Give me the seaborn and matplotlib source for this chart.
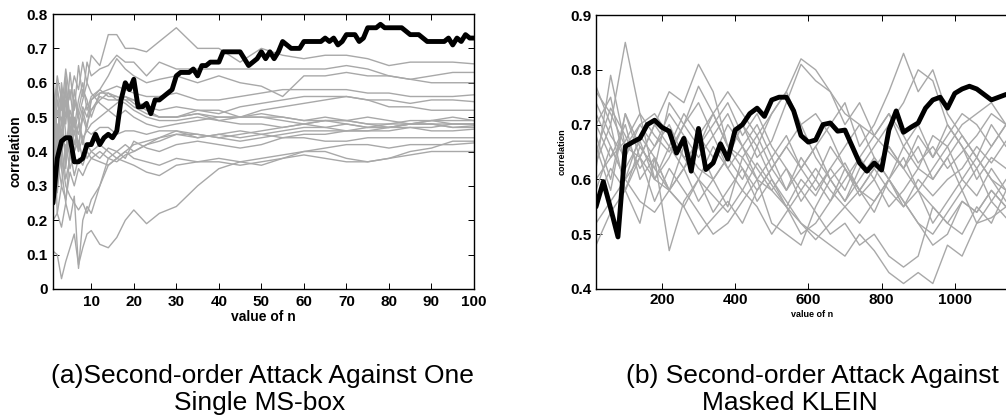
import numpy as np
import pandas as pd
import seaborn as sns
import matplotlib
matplotlib.use("Agg")
import matplotlib.pyplot as plt

sns.set_theme(style="ticks")
plt.rcParams['font.family'] = ['Liberation Sans', 'DejaVu Sans']
plt.rcParams.update({
    'xtick.direction': 'in', 'ytick.direction': 'in',
    'xtick.top': True, 'ytick.right': True,
    'xtick.major.size': 4, 'ytick.major.size': 4,
    'xtick.major.width': 0.7, 'ytick.major.width': 0.7,
    'axes.edgecolor': 'black', 'axes.linewidth': 1.0,
    'text.color': 'black', 'axes.labelcolor': 'black',
    'xtick.color': 'black', 'ytick.color': 'black',
})

GRAY = '#a8a8a8'

# ---- (a) one single MS-box : n = 1..100 ----
n_a = list(range(1, 101))
best_a = [0.25, 0.38, 0.43, 0.44, 0.44, 0.37, 0.37, 0.38, 0.42, 0.42,
          0.45, 0.42, 0.44, 0.45, 0.44, 0.46, 0.55, 0.60, 0.58, 0.61,
          0.53, 0.53, 0.54, 0.51, 0.55, 0.55, 0.56, 0.57, 0.58, 0.62,
          0.63, 0.63, 0.63, 0.64, 0.62, 0.65, 0.65, 0.66, 0.66, 0.66,
          0.69, 0.69, 0.69, 0.69, 0.69, 0.67, 0.65, 0.66, 0.67, 0.69,
          0.67, 0.69, 0.67, 0.69, 0.72, 0.71, 0.70, 0.70, 0.70, 0.72,
          0.72, 0.72, 0.72, 0.72, 0.73, 0.72, 0.73, 0.71, 0.72, 0.74,
          0.74, 0.74, 0.72, 0.73, 0.76, 0.76, 0.76, 0.77, 0.76, 0.76,
          0.76, 0.76, 0.76, 0.75, 0.74, 0.74, 0.74, 0.73, 0.72, 0.72,
          0.72, 0.72, 0.72, 0.73, 0.71, 0.73, 0.72, 0.74, 0.73, 0.73]

n_a_gray = [1, 2, 3, 4, 5, 6, 7, 8, 9, 10, 12, 14, 16, 18, 20, 23, 26, 30,
            35, 40, 45, 50, 55, 60, 65, 70, 75, 80, 85, 90, 95, 100]
wrong_a = [
    [0.45, 0.58, 0.52, 0.64, 0.55, 0.62, 0.58, 0.66, 0.60, 0.68, 0.65, 0.74, 0.74, 0.70, 0.70, 0.69, 0.72, 0.76, 0.70, 0.70, 0.66, 0.70, 0.68, 0.67, 0.68, 0.68, 0.67, 0.65, 0.66, 0.66, 0.66, 0.655],
    [0.50, 0.62, 0.55, 0.48, 0.63, 0.52, 0.65, 0.56, 0.66, 0.62, 0.64, 0.65, 0.68, 0.66, 0.66, 0.62, 0.66, 0.64, 0.64, 0.64, 0.64, 0.64, 0.64, 0.64, 0.64, 0.65, 0.64, 0.62, 0.61, 0.62, 0.63, 0.63],
    [0.55, 0.42, 0.60, 0.50, 0.58, 0.47, 0.55, 0.60, 0.52, 0.56, 0.58, 0.62, 0.67, 0.64, 0.62, 0.60, 0.61, 0.62, 0.60, 0.62, 0.60, 0.59, 0.56, 0.62, 0.62, 0.63, 0.62, 0.62, 0.61, 0.60, 0.60, 0.60],
    [0.30, 0.48, 0.40, 0.55, 0.45, 0.50, 0.40, 0.52, 0.47, 0.55, 0.57, 0.58, 0.59, 0.58, 0.57, 0.56, 0.56, 0.57, 0.55, 0.55, 0.56, 0.57, 0.58, 0.58, 0.58, 0.58, 0.57, 0.57, 0.56, 0.56, 0.56, 0.565],
    [0.58, 0.45, 0.55, 0.35, 0.50, 0.42, 0.48, 0.53, 0.50, 0.55, 0.58, 0.56, 0.56, 0.55, 0.55, 0.53, 0.52, 0.53, 0.52, 0.51, 0.53, 0.54, 0.55, 0.56, 0.56, 0.56, 0.55, 0.55, 0.54, 0.55, 0.55, 0.545],
    [0.40, 0.52, 0.45, 0.58, 0.42, 0.49, 0.45, 0.50, 0.54, 0.52, 0.56, 0.55, 0.55, 0.56, 0.54, 0.52, 0.50, 0.50, 0.51, 0.50, 0.50, 0.52, 0.53, 0.54, 0.55, 0.56, 0.55, 0.53, 0.53, 0.52, 0.52, 0.52],
    [0.35, 0.55, 0.48, 0.60, 0.50, 0.45, 0.52, 0.58, 0.55, 0.50, 0.57, 0.57, 0.55, 0.54, 0.52, 0.50, 0.49, 0.49, 0.50, 0.49, 0.48, 0.48, 0.47, 0.48, 0.49, 0.49, 0.48, 0.48, 0.49, 0.49, 0.48, 0.48],
    [0.52, 0.40, 0.58, 0.45, 0.38, 0.55, 0.50, 0.42, 0.48, 0.52, 0.55, 0.57, 0.56, 0.55, 0.53, 0.51, 0.50, 0.50, 0.51, 0.49, 0.50, 0.50, 0.49, 0.48, 0.47, 0.46, 0.46, 0.46, 0.47, 0.47, 0.48, 0.48],
    [0.25, 0.35, 0.45, 0.40, 0.52, 0.48, 0.42, 0.50, 0.46, 0.48, 0.50, 0.52, 0.50, 0.52, 0.50, 0.48, 0.47, 0.48, 0.49, 0.50, 0.50, 0.51, 0.50, 0.49, 0.49, 0.48, 0.47, 0.47, 0.48, 0.49, 0.50, 0.49],
    [0.45, 0.30, 0.50, 0.38, 0.45, 0.40, 0.48, 0.44, 0.46, 0.45, 0.47, 0.47, 0.45, 0.46, 0.46, 0.45, 0.46, 0.46, 0.44, 0.45, 0.44, 0.45, 0.46, 0.47, 0.47, 0.48, 0.47, 0.48, 0.48, 0.48, 0.47, 0.475],
    [0.35, 0.28, 0.42, 0.32, 0.38, 0.46, 0.40, 0.44, 0.38, 0.40, 0.42, 0.40, 0.38, 0.40, 0.42, 0.43, 0.44, 0.45, 0.45, 0.44, 0.43, 0.44, 0.45, 0.46, 0.46, 0.46, 0.47, 0.47, 0.48, 0.48, 0.47, 0.47],
    [0.45, 0.38, 0.30, 0.42, 0.35, 0.40, 0.43, 0.38, 0.42, 0.40, 0.38, 0.41, 0.40, 0.38, 0.43, 0.41, 0.40, 0.42, 0.43, 0.42, 0.41, 0.42, 0.44, 0.45, 0.45, 0.46, 0.46, 0.47, 0.47, 0.46, 0.46, 0.465],
    [0.30, 0.42, 0.35, 0.25, 0.40, 0.33, 0.38, 0.36, 0.40, 0.38, 0.40, 0.38, 0.37, 0.39, 0.40, 0.42, 0.43, 0.45, 0.44, 0.45, 0.46, 0.45, 0.44, 0.44, 0.43, 0.43, 0.44, 0.44, 0.44, 0.44, 0.44, 0.44],
    [0.20, 0.22, 0.30, 0.26, 0.34, 0.30, 0.35, 0.33, 0.36, 0.38, 0.37, 0.36, 0.38, 0.40, 0.38, 0.37, 0.36, 0.38, 0.37, 0.38, 0.37, 0.38, 0.39, 0.40, 0.41, 0.42, 0.42, 0.41, 0.42, 0.42, 0.42, 0.425],
    [0.60, 0.45, 0.38, 0.30, 0.27, 0.25, 0.23, 0.25, 0.22, 0.26, 0.30, 0.36, 0.38, 0.37, 0.36, 0.34, 0.33, 0.36, 0.37, 0.37, 0.36, 0.37, 0.38, 0.39, 0.38, 0.37, 0.37, 0.38, 0.39, 0.40, 0.40, 0.40],
    [0.11, 0.10, 0.03, 0.08, 0.12, 0.16, 0.07, 0.12, 0.16, 0.17, 0.13, 0.12, 0.15, 0.20, 0.23, 0.19, 0.22, 0.24, 0.30, 0.35, 0.37, 0.36, 0.38, 0.40, 0.40, 0.38, 0.37, 0.38, 0.40, 0.41, 0.43, 0.43],
    [0.56, 0.22, 0.18, 0.25, 0.20, 0.27, 0.06, 0.20, 0.24, 0.22, 0.30, 0.38, 0.40, 0.42, 0.40, 0.42, 0.44, 0.46, 0.45, 0.44, 0.45, 0.46, 0.47, 0.48, 0.49, 0.49, 0.50, 0.49, 0.48, 0.48, 0.48, 0.48],
    [0.42, 0.60, 0.35, 0.62, 0.45, 0.58, 0.50, 0.55, 0.60, 0.57, 0.54, 0.52, 0.54, 0.56, 0.55, 0.52, 0.50, 0.50, 0.52, 0.52, 0.50, 0.50, 0.50, 0.49, 0.50, 0.49, 0.48, 0.47, 0.48, 0.49, 0.49, 0.49],
]

# ---- (b) masked KLEIN : n = 20..1160 step 20 ----
n_b = list(range(20, 1161, 20))
best_b = [0.55, 0.596, 0.547, 0.495, 0.66, 0.668, 0.675, 0.70, 0.708, 0.695,
          0.688, 0.648, 0.675, 0.615, 0.693, 0.618, 0.63, 0.665, 0.637, 0.69,
          0.70, 0.72, 0.73, 0.715, 0.745, 0.75, 0.75, 0.725, 0.68, 0.668,
          0.672, 0.70, 0.703, 0.688, 0.69, 0.66, 0.63, 0.615, 0.63, 0.617,
          0.69, 0.725, 0.686, 0.695, 0.703, 0.73, 0.745, 0.75, 0.73, 0.757,
          0.765, 0.77, 0.765, 0.755, 0.745, 0.75, 0.755, 0.755]

n_b_gray = list(range(20, 1181, 40))
wrong_b = [
    [0.77, 0.70, 0.85, 0.72, 0.68, 0.65, 0.70, 0.74, 0.68, 0.72, 0.66, 0.70, 0.64, 0.68, 0.62, 0.66, 0.60, 0.63, 0.58, 0.56, 0.60, 0.55, 0.58, 0.52, 0.56, 0.60, 0.57, 0.62, 0.58, 0.60],
    [0.62, 0.79, 0.66, 0.64, 0.70, 0.76, 0.74, 0.81, 0.76, 0.66, 0.64, 0.68, 0.62, 0.58, 0.64, 0.60, 0.66, 0.62, 0.57, 0.60, 0.55, 0.58, 0.62, 0.60, 0.64, 0.68, 0.64, 0.70, 0.66, 0.69],
    [0.68, 0.60, 0.72, 0.66, 0.62, 0.74, 0.70, 0.77, 0.72, 0.66, 0.70, 0.64, 0.67, 0.74, 0.81, 0.78, 0.76, 0.72, 0.70, 0.68, 0.65, 0.62, 0.66, 0.60, 0.64, 0.58, 0.62, 0.56, 0.60, 0.58],
    [0.58, 0.66, 0.60, 0.68, 0.64, 0.58, 0.62, 0.56, 0.60, 0.64, 0.60, 0.66, 0.72, 0.76, 0.82, 0.80, 0.76, 0.70, 0.74, 0.68, 0.72, 0.66, 0.70, 0.64, 0.68, 0.72, 0.70, 0.66, 0.70, 0.68],
    [0.48, 0.54, 0.58, 0.52, 0.64, 0.47, 0.56, 0.60, 0.54, 0.58, 0.62, 0.56, 0.60, 0.55, 0.50, 0.52, 0.56, 0.60, 0.64, 0.68, 0.72, 0.68, 0.63, 0.66, 0.62, 0.65, 0.68, 0.72, 0.70, 0.73],
    [0.70, 0.75, 0.62, 0.67, 0.60, 0.58, 0.62, 0.66, 0.70, 0.74, 0.68, 0.72, 0.66, 0.62, 0.58, 0.54, 0.50, 0.52, 0.48, 0.50, 0.46, 0.44, 0.46, 0.55, 0.52, 0.56, 0.54, 0.58, 0.55, 0.56],
    [0.72, 0.66, 0.60, 0.64, 0.56, 0.62, 0.58, 0.54, 0.50, 0.52, 0.56, 0.60, 0.58, 0.55, 0.52, 0.50, 0.48, 0.46, 0.50, 0.47, 0.43, 0.41, 0.43, 0.41, 0.48, 0.46, 0.52, 0.53, 0.55, 0.58],
    [0.65, 0.73, 0.68, 0.62, 0.66, 0.70, 0.64, 0.60, 0.66, 0.62, 0.58, 0.63, 0.59, 0.55, 0.60, 0.57, 0.62, 0.58, 0.64, 0.60, 0.66, 0.62, 0.58, 0.55, 0.52, 0.50, 0.55, 0.52, 0.58, 0.56],
    [0.60, 0.64, 0.70, 0.60, 0.64, 0.58, 0.66, 0.62, 0.60, 0.55, 0.64, 0.60, 0.52, 0.50, 0.48, 0.55, 0.60, 0.56, 0.62, 0.66, 0.70, 0.74, 0.80, 0.78, 0.70, 0.66, 0.62, 0.66, 0.70, 0.72],
    [0.66, 0.58, 0.72, 0.64, 0.70, 0.66, 0.72, 0.68, 0.64, 0.70, 0.66, 0.60, 0.64, 0.58, 0.62, 0.66, 0.70, 0.74, 0.66, 0.70, 0.76, 0.83, 0.76, 0.80, 0.72, 0.68, 0.64, 0.60, 0.58, 0.62],
    [0.74, 0.68, 0.64, 0.70, 0.72, 0.68, 0.64, 0.66, 0.60, 0.64, 0.70, 0.66, 0.60, 0.56, 0.52, 0.49, 0.52, 0.55, 0.58, 0.54, 0.60, 0.64, 0.58, 0.62, 0.66, 0.60, 0.64, 0.60, 0.56, 0.58],
    [0.56, 0.62, 0.58, 0.64, 0.60, 0.66, 0.62, 0.68, 0.72, 0.66, 0.62, 0.58, 0.62, 0.66, 0.62, 0.58, 0.62, 0.66, 0.70, 0.64, 0.60, 0.56, 0.52, 0.50, 0.54, 0.58, 0.52, 0.56, 0.53, 0.54],
    [0.63, 0.70, 0.58, 0.66, 0.62, 0.58, 0.55, 0.50, 0.53, 0.56, 0.52, 0.58, 0.62, 0.66, 0.70, 0.72, 0.68, 0.62, 0.58, 0.62, 0.58, 0.55, 0.60, 0.57, 0.60, 0.62, 0.66, 0.63, 0.67, 0.65],
    [0.70, 0.64, 0.67, 0.72, 0.60, 0.64, 0.70, 0.66, 0.72, 0.76, 0.72, 0.68, 0.72, 0.76, 0.70, 0.64, 0.60, 0.56, 0.60, 0.64, 0.60, 0.66, 0.62, 0.68, 0.66, 0.70, 0.72, 0.74, 0.70, 0.72],
    [0.76, 0.72, 0.66, 0.70, 0.66, 0.72, 0.68, 0.64, 0.68, 0.62, 0.66, 0.62, 0.58, 0.62, 0.56, 0.60, 0.56, 0.62, 0.58, 0.62, 0.66, 0.62, 0.68, 0.64, 0.70, 0.66, 0.60, 0.64, 0.62, 0.60],
    [0.52, 0.56, 0.60, 0.56, 0.54, 0.58, 0.55, 0.60, 0.57, 0.54, 0.58, 0.55, 0.50, 0.54, 0.58, 0.62, 0.58, 0.55, 0.52, 0.56, 0.60, 0.56, 0.52, 0.48, 0.50, 0.56, 0.54, 0.58, 0.55, 0.57],
]


def long_df(xs, traces):
    rows = []
    for k, tr in enumerate(traces):
        for x, y in zip(xs, tr):
            rows.append((k, x, y))
    return pd.DataFrame(rows, columns=['key', 'n', 'corr'])


fig = plt.figure(figsize=(10.06, 4.16), dpi=100)
ax1 = fig.add_axes([53 / 1006, 1 - 289 / 416, 421 / 1006, 275 / 416])
ax2 = fig.add_axes([596 / 1006, 1 - 289 / 416, 432 / 1006, 274 / 416])

# (a)
sns.lineplot(data=long_df(n_a_gray, wrong_a), x='n', y='corr', units='key',
             estimator=None, sort=False, color=GRAY, lw=1.0, ax=ax1)
sns.lineplot(x=n_a, y=best_a, color='black', lw=3.5, sort=False, ax=ax1)
ax1.set_xlim(1, 100)
ax1.set_ylim(0, 0.8)
ax1.set_xticks(range(10, 101, 10))
ax1.set_yticks(np.arange(0, 0.81, 0.1))
ax1.set_yticklabels(['0'] + ['%.1f' % v for v in np.arange(0.1, 0.81, 0.1)])
ax1.set_xlabel('value of n', fontsize=10, fontweight='bold', labelpad=1)
ax1.set_ylabel('correlation', fontsize=10, fontweight='bold', labelpad=3)
ax1.tick_params(labelsize=11, pad=4)

# (b)
sns.lineplot(data=long_df(n_b_gray, wrong_b), x='n', y='corr', units='key',
             estimator=None, sort=False, color=GRAY, lw=1.0, ax=ax2)
sns.lineplot(x=n_b, y=best_b, color='black', lw=3.5, sort=False, ax=ax2)
ax2.set_xlim(20, 1200)
ax2.set_ylim(0.4, 0.9)
ax2.set_xticks(range(200, 1001, 200))
ax2.set_yticks(np.arange(0.4, 0.91, 0.1))
ax2.set_yticklabels(['%.1f' % v for v in np.arange(0.4, 0.91, 0.1)])
ax2.set_xlabel('value of n', fontsize=6.5, fontweight='bold', labelpad=2)
ax2.set_ylabel('correlation', fontsize=6.5, fontweight='bold', labelpad=3)
ax2.tick_params(labelsize=11, pad=3)

for ax in (ax1, ax2):
    for lab in ax.get_xticklabels() + ax.get_yticklabels():
        lab.set_fontweight('bold')
    for s in ax.spines.values():
        s.set_visible(True)

# captions
fig.text(262 / 1006, 1 - 383 / 416, '(a)Second-order Attack Against One',
         ha='center', va='baseline', fontsize=19)
fig.text(260 / 1006, 1 - 410 / 416, 'Single MS-box',
         ha='center', va='baseline', fontsize=19)
fig.text(626 / 1006, 1 - 383 / 416, '(b) Second-order Attack Against',
         ha='left', va='baseline', fontsize=19)
fig.text(790 / 1006, 1 - 410 / 416, 'Masked KLEIN',
         ha='center', va='baseline', fontsize=19)

plt.savefig('out.png', dpi=100)
